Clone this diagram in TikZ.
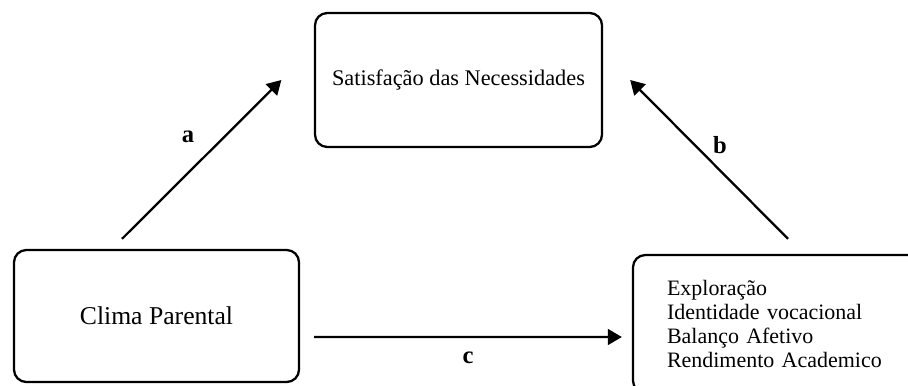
\documentclass[tikz,border=0pt]{standalone}
\usepackage{fontspec}
\setmainfont{Liberation Serif}
\usetikzlibrary{arrows.meta}

\begin{document}
\begin{tikzpicture}[
	box/.style={shape=rectangle,rounded corners=7pt,draw=black,line width=1.3pt,minimum width=5.7cm,minimum height=2.64cm},
	arr/.style={-{Triangle[length=8pt,width=9pt]},line width=1.3pt},
	lbl/.style={font=\fontsize{14}{16}\selectfont\bfseries}]
	\useasboundingbox (0,0) rectangle (18.16,7.70);

	\node[box,minimum width=5.74cm,minimum height=2.68cm,font=\fontsize{12.7}{15}\selectfont] (nec) at (9.17,6.10) {Satisfação das Necessidades};
	\node[box,font=\fontsize{14.6}{17}\selectfont] (clima) at (3.13,1.38) {Clima Parental};
	\node[box,minimum width=6.0cm,minimum height=2.76cm,text width=4.64cm,align=left,font=\fontsize{12.5}{13.7}\selectfont] (res) at (15.66,1.22) {Exploração\\Identidade vocacional\\Balanço Afetivo\\Rendimento Academico};

	\draw[arr] ([shift={(-0.69,0.2)}]clima.north) -- ([xshift=-0.65cm]nec.west);
	\draw[arr] ([shift={(0.10,0.3)}]res.north) -- ([xshift=0.54cm]nec.east);
	\draw[arr] ([shift={(0.28,-0.42)}]clima.east) -- ([shift={(-0.2,-0.26)}]res.west);

	\node[lbl] (la) at (3.76,4.96) {a};
	\node[lbl] (lb) at (14.40,4.80) {b};
	\node[lbl] (lc) at (9.36,0.54) {c};
\end{tikzpicture}
\end{document}
